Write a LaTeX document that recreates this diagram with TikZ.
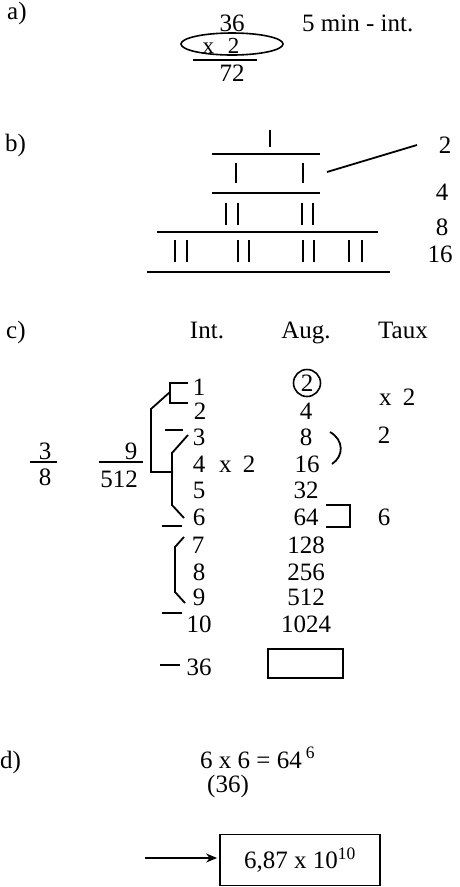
\documentclass[tikz,border=0pt]{standalone}
\usepackage{fontspec}
\setmainfont{Liberation Serif}
\usetikzlibrary{arrows.meta}
\begin{document}
\begin{tikzpicture}[x=1pt,y=-1pt,
  txt/.style={inner sep=0pt, anchor=base, font=\fontsize{25}{30}\selectfont},
  txtl/.style={txt, anchor=base west},
  ln/.style={line width=1.8pt},
  thin/.style={line width=1.6pt},
]
\useasboundingbox (0,0) rectangle (459,887);

% ---------- a)
\node[txtl] (la) at (7,19) {a)};
\node[txt] (a36) at (232,31) {36};
\node[txtl] (amin) at (302,31) {5 min - int.};
\node[txt, font=\fontsize{23}{27}\selectfont] (ax2) at (221,53) {x\hspace{0.6em}2};
\draw[thin] (232,44) ellipse [x radius=51pt, y radius=11pt];
\draw[ln] (193,60) -- (257,60);
\node[txt] (a72) at (232,81) {72};

% ---------- b)
\node[txtl] (lb) at (5,151) {b)};
\draw[ln] (270,130) -- (270,147);
\draw[ln] (212,154) -- (320,154);
\draw[ln] (236,163) -- (236,183);
\draw[ln] (303,163) -- (303,183);
\draw[ln] (212,193) -- (320,193);
\foreach \x in {226,238,302,313} \draw[ln] (\x,203) -- (\x,225);
\draw[ln] (157,232) -- (378,232);
\foreach \x in {175,187,238,249,303,314,349,362} \draw[ln] (\x,240) -- (\x,262);
\draw[ln] (147,272) -- (390,272);
\node[txt] (b2) at (445,153) {2};
\node[txt] (b4) at (442,200) {4};
\node[txt] (b8) at (442,235) {8};
\node[txt] (b16) at (440,262) {16};
\coordinate (bpt) at (327,172);
\coordinate (bend) at (417,145);
\draw[ln] (bpt) -- (bend);

% ---------- c)
\node[txtl] (lc) at (6,338) {c)};
\node[txt] (hint) at (207,338) {Int.};
\node[txt] (haug) at (306,338) {Aug.};
\node[txt] (htaux) at (403,338) {Taux};

\node[txt] (i1) at (199,395) {1};
\node[txt] (i2) at (200,419) {2};
\node[txt] (i3) at (199,445) {3};
\node[txt] (i4) at (199,472) {4};
\node[txt] (i5) at (199,498) {5};
\node[txt] (i6) at (199,525) {6};
\node[txt] (i7) at (198,553) {7};
\node[txt] (i8) at (199,580) {8};
\node[txt] (i9) at (199,605) {9};
\node[txt] (i10) at (199,632) {10};
\node[txtl] (ix2) at (219,472) {x\hspace{0.45em}2};

\node[circle, draw, thin, inner sep=0pt, minimum size=27pt,
      font=\fontsize{25}{30}\selectfont] (g2) at (307,383) {2};
\node[txt] (g4) at (306,419) {4};
\node[txt] (g8) at (306,445) {8};
\node[txt] (g16) at (307,472) {16};
\node[txt] (g32) at (306,498) {32};
\node[txt] (g64) at (306,525) {64};
\node[txt] (g128) at (306,553) {128};
\node[txt] (g256) at (306,580) {256};
\node[txt] (g512) at (306,605) {512};
\node[txt] (g1024) at (306,632) {1024};

\node[txtl] (tx2) at (379,405) {x\hspace{0.45em}2};
\node[txt] (t2) at (384,443) {2};
\node[txt] (t6) at (384,525) {6};

% fractions
\node[txt] (f3) at (45,459) {3};
\draw[ln] (30,462) -- (57,462);
\node[txt] (f8) at (45,485) {8};
\node[txt] (f9) at (131,459) {9};
\draw[ln] (99,462) -- (143,462);
\node[txt] (f512) at (119,487) {512};

% brackets
\draw[ln] (188,383) -- (170,383) -- (170,403) -- (188,403);
\draw[ln] (170,392) -- (151,409) -- (151,472) -- (173,472);
\draw[ln] (165,430) -- (183,430);
\draw[ln] (188,435) -- (172,453) -- (172,505) -- (184,518);
\draw[ln] (162,526) -- (182,526);
\draw[ln] (184,537) -- (175,547) -- (175,592) -- (185,603);
\draw[ln] (162,613) -- (182,613);
\draw[ln] (330,432) .. controls (344,440) and (344,456) .. (332,464);
\draw[ln] (326,505) -- (350,505) -- (350,527) -- (326,527);

\draw[ln] (160,665) -- (180,665);
\node[txt] (c36) at (199,675) {36};
\node[draw, ln, minimum width=75pt, minimum height=29pt, inner sep=0pt] (ebox) at (305.5,663.5) {};

% ---------- d)
\node[txtl] (ld) at (0,768) {d)};
\node[txtl] (deq) at (200,768) {6 x 6 = 64\,\textsuperscript{6}};
\node[txt] (d36) at (228,792) {(36)};
\node[draw, ln, minimum width=160pt, minimum height=51pt, inner sep=0pt,
      font=\fontsize{25}{30}\selectfont] (res) at (300,860) {6,87 x 10\textsuperscript{10}};
\coordinate (arrS) at (145,858);
\draw[-{Stealth[length=11pt,width=9pt]}, line width=1.6pt, shorten >=2pt] (arrS) -- (res.west |- arrS);
\end{tikzpicture}
\end{document}
